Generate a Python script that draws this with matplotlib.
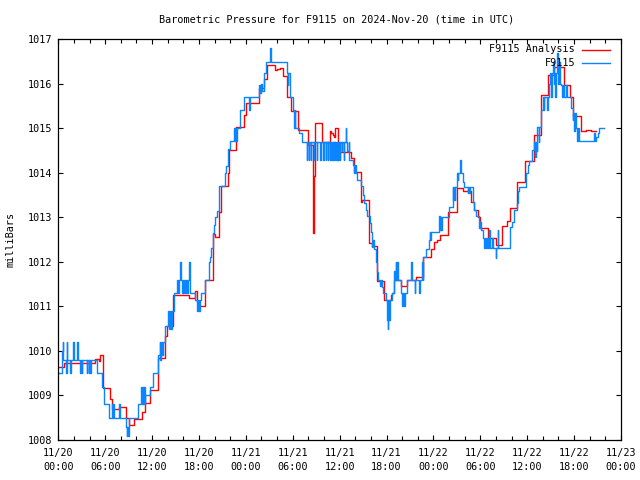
import matplotlib
matplotlib.use("Agg")
import matplotlib.pyplot as plt
from matplotlib.ticker import MultipleLocator, FixedLocator
from matplotlib.lines import Line2D

plt.rcParams['font.family'] = ['DejaVu Sans Mono']

# ---------------- data (hours since 2024-11-20 00:00 UTC, millibars) ----------------
red_hours = [0.0, 0.68, 4.74, 5.2, 5.3, 5.72, 6.66, 6.87, 7.73, 8.67, 9.1, 9.74, 10.72, 11.06,
             11.79, 12.73, 13.71, 13.92, 14.65, 16.7, 17.55, 17.77, 17.95, 18.75, 19.77, 20.0,
             20.5, 20.8, 21.69, 21.9, 22.7, 23.79, 24.08, 25.66, 26.3, 26.73, 27.71, 28.0, 28.35,
             28.74, 29.29, 29.72, 30.7, 31.98, 32.6, 32.64, 32.68, 32.8, 33.75, 34.74, 34.95,
             35.1, 35.25, 35.45, 35.78, 37.4, 37.83, 38.69, 38.9, 39.76, 40.2, 40.74, 41.68,
             42.54, 42.75, 42.96, 43.82, 44.67, 45.74, 46.72, 47.66, 48.09, 48.51, 48.86, 49.8,
             50.99, 51.84, 52.78, 53.13, 53.72, 53.95, 55.0, 55.99, 56.71, 57.4, 57.82, 58.68,
             59.7, 60.81, 61.8, 62.61, 63.46, 64.66, 65.51, 65.89, 66.88, 67.5, 67.94, 68.15,
             68.8]
red_mbar = [1009.63, 1009.73, 1009.82, 1009.78, 1009.92, 1009.17, 1008.92, 1008.69, 1008.73,
            1008.5, 1008.33, 1008.47, 1008.63, 1008.82, 1009.12, 1009.84, 1010.34, 1010.55,
            1011.25, 1011.2, 1011.35, 1011.1, 1011.02, 1011.59, 1012.62, 1012.55, 1013.13,
            1013.71, 1013.99, 1014.51, 1015.02, 1015.29, 1015.57, 1015.91, 1016.11, 1016.42,
            1016.31, 1016.33, 1016.36, 1016.18, 1015.71, 1015.39, 1014.96, 1014.63, 1013.69,
            1012.66, 1013.92, 1015.12, 1014.7, 1014.95, 1014.9, 1014.85, 1014.8, 1015.0,
            1014.46, 1014.34, 1014.03, 1013.35, 1013.39, 1012.42, 1012.36, 1011.58, 1011.15,
            1011.25, 1011.3, 1011.6, 1011.47, 1011.6, 1011.65, 1012.1, 1012.3, 1012.45,
            1012.5, 1012.6, 1013.13, 1013.65, 1013.6, 1013.35, 1013.17, 1013.0, 1012.76,
            1012.53, 1012.38, 1012.81, 1012.92, 1013.2, 1013.8, 1014.27, 1014.86, 1015.75,
            1016.2, 1016.38, 1015.97, 1015.71, 1015.28, 1014.94, 1014.97, 1014.96, 1014.94,
            1014.94]

blue_hours = [0.00, 0.45, 0.55, 0.62, 1.00, 1.06, 1.15, 1.50, 1.58, 1.90, 2.00, 2.35, 2.55,
              2.80, 2.86, 3.00, 3.06, 3.65, 3.70, 3.87, 3.92, 4.08, 4.13, 4.90, 5.59, 5.81,
              6.45, 6.88, 6.95, 7.05, 7.12, 7.73, 7.85, 8.70, 8.78, 8.85, 8.92, 9.00, 9.05,
              9.10, 10.20, 10.63, 10.72, 10.82, 10.90, 11.00, 11.08, 11.15, 11.79, 12.09,
              12.73, 12.95, 13.05, 13.20, 13.30, 13.37, 13.71, 14.01, 14.15, 14.25, 14.40,
              14.50, 14.78, 15.20, 15.30, 15.50, 15.62, 15.70, 15.80, 15.90, 16.00, 16.10,
              16.20, 16.35, 16.45, 16.60, 16.72, 16.80, 16.90, 17.55, 17.75, 17.85, 18.00,
              18.10, 18.20, 18.80, 19.25, 19.45, 19.60, 19.80, 19.95, 20.10, 20.25, 20.55,
              21.27, 21.48, 21.75, 21.95, 22.45, 22.55, 22.65, 22.75, 22.85, 23.30, 23.74,
              24.35, 24.55, 25.66, 25.80, 25.95, 26.10, 26.30, 26.52, 27.10, 27.22, 29.29,
              29.35, 29.45, 29.59, 30.02, 30.15, 30.25, 30.35, 30.79, 31.21,
              31.77, 31.83, 32.05, 32.11, 32.30, 32.36, 32.70, 32.76, 33.05, 33.11, 33.50,
              33.56, 33.90, 33.96, 34.20, 34.26, 34.50, 34.56, 34.75, 34.81, 34.92, 34.98,
              35.10, 35.16, 35.25, 35.31, 35.40, 35.46, 35.55, 35.61, 35.70, 35.76, 35.85,
              35.91, 36.00, 36.06, 36.30, 36.36, 36.50, 36.56, 36.77, 36.83, 37.00, 37.15,
              37.25, 37.70, 37.85, 37.92, 38.05, 38.26, 38.69, 38.95, 39.11, 39.33, 39.54,
              39.89, 40.06, 40.19, 40.30, 40.40, 40.61, 40.83, 40.91, 41.20, 41.30, 41.47,
              41.55, 41.89, 42.00, 42.06, 42.12, 42.19, 42.25, 42.32, 42.40, 42.75, 42.96,
              43.05, 43.15, 43.22, 43.39, 43.45, 43.82, 44.03, 44.15, 44.25, 44.35, 44.67,
              45.18, 45.25, 45.61, 45.68, 46.16, 46.22, 46.59, 46.65, 46.72, 47.02, 47.45,
              47.55, 47.60, 47.66, 48.73, 48.85, 48.92, 49.00, 49.08, 50.01, 50.44, 50.55,
              50.62, 50.70, 50.80, 50.99, 51.10, 51.20, 51.45, 51.55, 51.72, 51.93, 52.40,
              52.48, 52.55, 52.63, 53.00, 53.21, 53.42, 53.85, 53.95, 54.07, 54.28, 54.49,
              54.60, 54.70, 54.85, 54.92, 55.13, 55.20, 55.50, 55.60, 55.95, 56.05, 56.20,
              56.27, 57.78, 58.00, 58.33, 58.68, 58.80, 58.98, 59.83, 60.04, 60.26, 60.55,
              60.89, 61.00, 61.08, 61.20, 61.30, 61.45, 61.54, 61.75, 61.96, 62.10, 62.20,
              62.50, 62.60, 62.82, 62.95, 63.05, 63.15, 63.30, 63.38, 63.50, 63.60, 63.70,
              63.85, 63.95, 64.05, 64.15, 64.31, 64.45, 64.55, 64.74, 65.00, 65.10, 65.60,
              65.81, 65.90, 66.00, 66.10, 66.23, 66.35, 66.45, 66.66, 68.58, 68.65, 68.79,
              69.00, 69.22, 69.86]
blue_mbar = [1009.5, 1010.0, 1010.2, 1009.8, 1009.5, 1010.2, 1009.8, 1009.5, 1009.8, 1010.2,
             1009.8, 1010.2, 1009.8, 1009.5, 1009.8, 1009.5, 1009.8, 1009.5, 1009.8, 1009.5,
             1009.8, 1009.5, 1009.8, 1009.5, 1009.2, 1008.8, 1008.5, 1008.8, 1008.5, 1008.8,
             1008.5, 1008.8, 1008.5, 1008.3, 1008.1, 1008.3, 1008.1, 1008.3, 1008.1, 1008.5,
             1008.8, 1009.2, 1008.8, 1009.2, 1008.8, 1009.2, 1008.8, 1009.0, 1009.2, 1009.5,
             1009.9, 1010.2, 1009.8, 1010.2, 1009.9, 1010.2, 1010.55, 1010.9, 1010.5, 1010.9,
             1010.5, 1010.9, 1011.3, 1011.6, 1011.3, 1011.6, 1012.0, 1011.6, 1011.3, 1011.6,
             1011.3, 1011.6, 1011.3, 1011.6, 1011.3, 1011.6, 1012.0, 1011.6, 1011.3, 1011.15,
             1010.9, 1011.15, 1010.9, 1011.15, 1011.3, 1011.6, 1012.0, 1012.12, 1012.31,
             1012.64, 1012.83, 1013.0, 1013.14, 1013.71, 1013.99, 1014.16, 1014.53, 1014.72,
             1015.0, 1014.72, 1015.0, 1014.72, 1015.0, 1015.41, 1015.7, 1015.41, 1015.7,
             1015.97, 1015.8, 1016.0, 1015.85, 1016.24, 1016.5, 1016.8, 1016.5, 1016.24,
             1015.97, 1016.24, 1015.7, 1015.41, 1015.0, 1015.41, 1015.0, 1014.89, 1014.7,
             1014.3, 1014.7, 1014.3, 1014.7, 1014.3, 1014.7, 1014.3, 1014.7, 1014.3, 1014.7,
             1014.3, 1014.7, 1014.3, 1014.7, 1014.3, 1014.7, 1014.3, 1014.7, 1014.3, 1014.7,
             1014.3, 1014.7, 1014.3, 1014.7, 1014.3, 1014.7, 1014.3, 1014.7, 1014.3, 1014.7,
             1014.3, 1014.7, 1014.3, 1014.7, 1014.3, 1014.7, 1014.5, 1014.7, 1014.3, 1014.7,
             1015.0, 1014.7, 1014.5, 1014.7, 1014.3, 1014.18, 1014.0, 1014.18, 1013.99,
             1013.85, 1013.71, 1013.5, 1013.32, 1013.17, 1013.02, 1012.87, 1012.68, 1012.34,
             1012.5, 1012.3, 1012.0, 1011.78, 1011.6, 1011.45, 1011.6, 1011.44, 1011.3,
             1011.15, 1010.9, 1011.15, 1010.7, 1010.5, 1011.15, 1010.7, 1011.15, 1011.3,
             1011.8, 1011.6, 1012.0, 1011.6, 1012.0, 1011.6, 1011.3, 1011.0, 1011.3, 1011.0,
             1011.3, 1011.6, 1012.0, 1011.6, 1011.3, 1011.6, 1011.3, 1011.6, 1012.0, 1011.6,
             1012.1, 1012.3, 1012.49, 1012.68, 1012.49, 1012.68, 1013.02, 1012.72, 1013.0,
             1012.72, 1013.0, 1013.24, 1013.69, 1013.4, 1013.69, 1013.4, 1013.69, 1013.99,
             1013.84, 1013.99, 1014.3, 1013.99, 1013.8, 1013.69, 1013.55, 1013.69, 1013.55,
             1013.69, 1013.35, 1013.17, 1013.02, 1012.76, 1012.9, 1012.72, 1012.53, 1012.31,
             1012.53, 1012.31, 1012.53, 1012.31, 1012.72, 1012.31, 1012.53, 1012.31, 1012.08,
             1012.31, 1012.72, 1012.31, 1012.79, 1012.9, 1013.17, 1013.32, 1013.6, 1013.69,
             1013.99, 1014.18, 1014.27, 1014.52, 1014.7, 1014.35, 1014.7, 1014.5, 1015.04,
             1014.7, 1015.04, 1015.41, 1015.71, 1015.41, 1015.71, 1015.41, 1015.71, 1016.0,
             1016.24, 1015.71, 1016.24, 1016.5, 1016.0, 1016.24, 1015.71, 1016.24, 1016.7,
             1016.0, 1016.5, 1016.0, 1015.97, 1015.71, 1015.97, 1015.71, 1015.97, 1015.71,
             1015.45, 1015.19, 1015.34, 1014.95, 1015.34, 1015.0, 1014.72, 1015.0, 1014.72,
             1014.9, 1014.72, 1014.8, 1014.9, 1015.0, 1015.0]

x_tick_hours = [0, 6, 12, 18, 24, 30, 36, 42, 48, 54, 60, 66, 72]
x_tick_labels = ["11/20\n00:00", "11/20\n06:00", "11/20\n12:00", "11/20\n18:00",
                 "11/21\n00:00", "11/21\n06:00", "11/21\n12:00", "11/21\n18:00",
                 "11/22\n00:00", "11/22\n06:00", "11/22\n12:00", "11/22\n18:00",
                 "11/23\n00:00"]
y_ticks = [1008, 1009, 1010, 1011, 1012, 1013, 1014, 1015, 1016, 1017]

title = "Barometric Pressure for F9115 on 2024-Nov-20 (time in UTC)"
series_names = ["F9115 Analysis", "F9115"]
RED = "#ff0000"
BLUE = "#0a84ff"
FS = 7.3

fig = plt.figure(figsize=(6.4, 4.8), dpi=100)
ax = fig.add_axes([58.3 / 640, 40 / 480, 562.7 / 640, 400.7 / 480])

ax.plot(red_hours, red_mbar, drawstyle="steps-post", color=RED, lw=1.0)
ax.plot(blue_hours, blue_mbar, drawstyle="steps-post", color=BLUE, lw=1.0)

ax.set_xlim(0, 72)
ax.set_ylim(1008, 1017)
ax.xaxis.set_major_locator(FixedLocator(x_tick_hours))
ax.set_xticklabels(x_tick_labels, fontsize=FS, linespacing=1.45)
ax.xaxis.set_minor_locator(MultipleLocator(2))
ax.yaxis.set_major_locator(FixedLocator(y_ticks))
ax.set_yticklabels([str(v) for v in y_ticks], fontsize=FS)

ax.tick_params(which="both", direction="in", top=True, right=True, width=0.8, color="black")
ax.tick_params(which="major", length=3.8)
ax.tick_params(which="minor", length=3.0)
ax.tick_params(axis="x", which="major", pad=6)
ax.tick_params(axis="y", which="major", pad=4)
for s in ax.spines.values():
    s.set_linewidth(0.9)

ax.set_ylabel("milliBars", fontsize=FS)
ax.yaxis.set_label_coords(-43 / 562.7, 0.5)
fig.text(337 / 640, 1 - 19 / 480, title, ha="center", va="center", fontsize=FS)

# legend (gnuplot style: right-aligned labels, sample lines to the right)
for i, (name, col) in enumerate(zip(series_names, [RED, BLUE])):
    ypix = 49.5 + 13 * i
    yf = 1 - ypix / 480
    fig.text(575 / 640, yf, name, ha="right", va="center", fontsize=FS)
    fig.add_artist(Line2D([582 / 640, 609.5 / 640], [yf, yf], color=col, lw=1.0,
                          transform=fig.transFigure))

fig.savefig("out.png", dpi=100)
